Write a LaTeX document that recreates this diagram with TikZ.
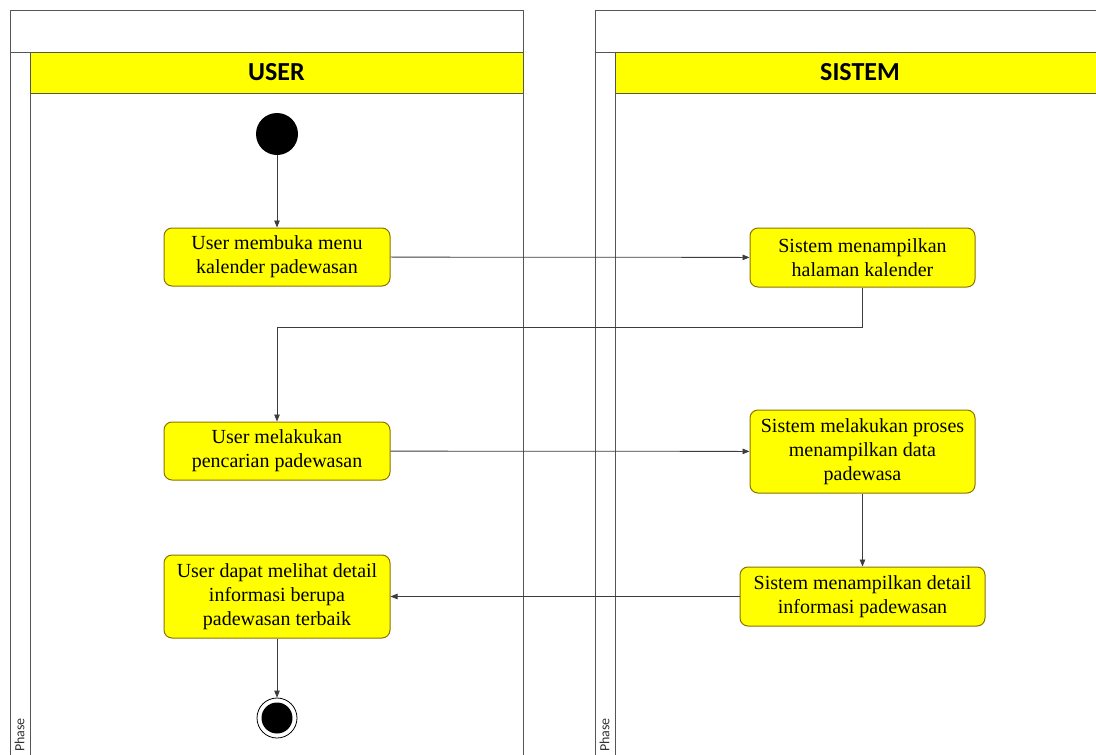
\documentclass[tikz,border=0pt]{standalone}
\usepackage{fontspec}
\setmainfont{Liberation Serif}
\newfontfamily\hdfont{Carlito}
\usetikzlibrary{arrows.meta}
\definecolor{laneyellow}{RGB}{255,255,0}
\definecolor{boxedge}{RGB}{140,115,0}
\definecolor{poolline}{RGB}{85,85,85}
\definecolor{flowline}{RGB}{60,60,60}
\begin{document}
\begin{tikzpicture}[x=1pt,y=-1pt,
  act/.style={draw=boxedge, line width=1pt, fill=laneyellow, rounded corners=8pt,
    align=center, inner sep=0pt, font=\fontsize{20}{24}\selectfont},
  pool/.style={draw=poolline, line width=0.8pt},
  lanehead/.style={draw=poolline, line width=0.8pt, fill=laneyellow},
  headtext/.style={font=\hdfont\bfseries\fontsize{26}{30}\selectfont},
  phasetext/.style={font=\hdfont\fontsize{14}{16}\selectfont, rotate=90, text=black!80},
  flow/.style={draw=flowline, line width=0.8pt, -{Triangle[length=7pt,width=5.5pt]}}]
\useasboundingbox (0,0) rectangle (1096,755);
\clip (0,0) rectangle (1096,755);
\fill[white] (0,0) rectangle (1096,755);

% USER pool
\draw[pool] (10,10) rectangle (523,800);
\draw[pool] (10,52) -- (523,52);
\draw[pool] (30,52) -- (30,800);
\draw[lanehead] (30,52) rectangle (523,93);
\node[headtext] (userhead) at (276.5,72.5) {USER};
\node[phasetext] (userphase) at (19.5,735) {Phase};

% SISTEM pool
\draw[pool] (595,10) rectangle (1200,800);
\draw[pool] (595,52) -- (1200,52);
\draw[pool] (615,52) -- (615,800);
\draw[lanehead] (615,52) rectangle (1200,93);
\node[headtext] (sistemhead) at (860,72.5) {SISTEM};
\node[phasetext] (sistemphase) at (604.5,735) {Phase};

% activities
\node[circle, fill=black, minimum size=42pt, inner sep=0pt] (start) at (277,134) {};
\node[act, minimum width=226pt, minimum height=58pt] (a1) at (277,257)
  {User membuka menu\\kalender padewasan};
\node[act, minimum width=225pt, minimum height=59pt] (s1) at (862.5,257.5)
  {Sistem menampilkan\\halaman kalender};
\node[act, minimum width=226pt, minimum height=58pt] (a2) at (277,451)
  {User melakukan\\pencarian padewasan};
\node[act, minimum width=225pt, minimum height=83pt] (s2) at (862.5,451.5)
  {Sistem melakukan proses\\menampilkan data\\padewasa};
\node[act, minimum width=245pt, minimum height=59pt] (s3) at (862.5,596.5)
  {Sistem menampilkan detail\\informasi padewasan};
\node[act, minimum width=226pt, minimum height=83pt] (a3) at (277,596.5)
  {User dapat melihat detail\\informasi berupa\\padewasan terbaik};
\node[circle, draw=black, line width=0.8pt, minimum size=40pt, inner sep=0pt] (end) at (277,718) {};
\fill[black] (end.center) circle (15.5pt);

% control flow
\draw[flow] (start) -- (a1);
\draw[flow] (a1) -- (s1);
\draw[flow] (s1.south) -- ++(0,40) coordinate (bend) -| (a2.north);
\draw[flow] (a2) -- (s2);
\draw[flow] (s2) -- (s3);
\draw[flow] (s3) -- (a3);
\draw[flow] (a3) -- (end);
\end{tikzpicture}
\end{document}
